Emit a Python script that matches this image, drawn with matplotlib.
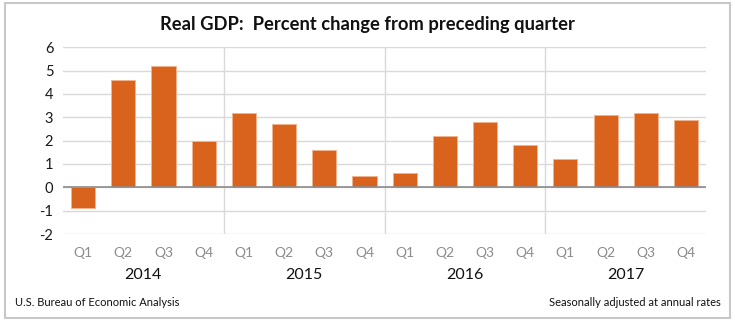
import matplotlib.pyplot as plt
import matplotlib.patches as patches
import numpy as np

# data
years = ['2014', '2015', '2016', '2017']
quarters = ['Q1', 'Q2', 'Q3', 'Q4']
gdp_change = [-0.9, 4.6, 5.2, 2.0,
              3.2, 2.7, 1.6, 0.5,
              0.6, 2.2, 2.8, 1.8,
              1.2, 3.1, 3.2, 2.9]
y_ticks = [-2, -1, 0, 1, 2, 3, 4, 5, 6]

plt.rcParams['font.family'] = ['Lato', 'DejaVu Sans']

fig = plt.figure(figsize=(7.35, 3.21), dpi=100)
ax = fig.add_axes([0.0857, 0.271, 0.875, 0.5816])

# outer frame
fig.patches.append(patches.Rectangle((0.007, 0.01), 0.986, 0.982, transform=fig.transFigure,
                                     fill=False, edgecolor='#c8c8c8', linewidth=1.5))

x = np.arange(len(gdp_change))
ax.bar(x, gdp_change, width=0.6, color='#d9621c', edgecolor='#f2b48f', linewidth=0.7, zorder=3)

ax.set_xlim(-0.5, len(gdp_change) - 0.5)
ax.set_ylim(-2, 6)
ax.set_yticks(y_ticks)
ax.set_yticklabels([str(t) for t in y_ticks], fontsize=10.5, color='#1a1a1a')
ax.yaxis.grid(True, color='#d9d9d9', linewidth=1, zorder=0)
ax.axhline(0, color='#8c8c8c', linewidth=1.2, zorder=4)

# year separators
for k in range(1, len(years)):
    ax.axvline(4 * k - 0.5, color='#d9d9d9', linewidth=1, zorder=1)

ax.set_xticks(x)
ax.set_xticklabels(quarters * len(years), fontsize=10, color='#8c8c8c')
ax.tick_params(axis='both', length=0, pad=7)
ax.tick_params(axis='x', pad=9)
for s in ax.spines.values():
    s.set_visible(False)

for k, yr in enumerate(years):
    ax.text(4 * k + 1.5, -0.22, yr, transform=ax.get_xaxis_transform(),
            ha='center', va='center', fontsize=11.5, color='#111111')

fig.text(0.5, 0.925, 'Real GDP:  Percent change from preceding quarter',
         ha='center', va='center', fontsize=13.2, fontweight='bold', color='#111111')
fig.text(0.02, 0.057, 'U.S. Bureau of Economic Analysis', ha='left', va='center',
         fontsize=8, color='#111111')
fig.text(0.98, 0.057, 'Seasonally adjusted at annual rates', ha='right', va='center',
         fontsize=8, color='#111111')

fig.savefig('out.png', dpi=100)
